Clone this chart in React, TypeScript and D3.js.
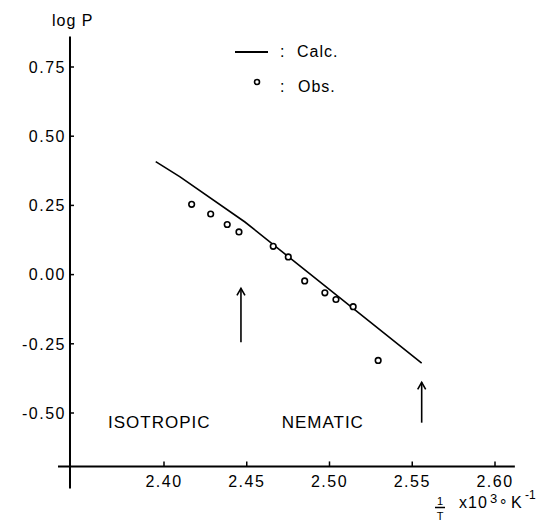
import React, { useEffect, useRef } from "react";
import * as d3 from "d3";

// observed log P vs 1/T x 10^3
const obsX = [2.4167, 2.4282, 2.4382, 2.4453, 2.466, 2.4751, 2.485, 2.4972, 2.5039, 2.5143, 2.5294];
const obsY = [0.254, 0.219, 0.181, 0.154, 0.102, 0.064, -0.023, -0.066, -0.09, -0.116, -0.31];

// calculated curve
const calcX = [2.395, 2.4097, 2.4489, 2.5557];
const calcY = [0.408, 0.353, 0.19, -0.32];

const xTicks = [2.4, 2.45, 2.5, 2.55, 2.6];
const yTicks = [0.75, 0.5, 0.25, 0.0, -0.25, -0.5];

// transition arrows: x, tip y, tail y
const arrowX = [2.4465, 2.5557];
const arrowTip = [-0.05, -0.389];
const arrowTail = [-0.244, -0.535];

const regionLabels = ["ISOTROPIC", "NEMATIC"];
const regionX = [2.3662, 2.4711];
const regionY = -0.553;

const font = "'Liberation Sans', Arial, sans-serif";

export default function App() {
  const ref = useRef<SVGSVGElement>(null);

  useEffect(() => {
    const svg = d3.select(ref.current);
    svg.selectAll("*").remove();

    const x = d3.scaleLinear().domain([2.4, 2.6]).range([164, 495]);
    const y = d3.scaleLinear().domain([-0.5, 0.75]).range([413, 67]);

    const axisX = x(2.3432);
    const axisY = y(-0.693);

    const g = svg.append("g").attr("fill", "none").attr("stroke", "#000");

    // axes lines
    g.append("line")
      .attr("x1", axisX).attr("x2", axisX)
      .attr("y1", y(0.86)).attr("y2", axisY + 22)
      .attr("stroke-width", 2);
    g.append("line")
      .attr("x1", axisX - 12).attr("x2", x(2.612))
      .attr("y1", axisY).attr("y2", axisY)
      .attr("stroke-width", 2);

    // Y ticks
    const yAxis = svg.append("g");
    yTicks.forEach((t) => {
      yAxis.append("line")
        .attr("x1", axisX).attr("x2", axisX + 4)
        .attr("y1", y(t)).attr("y2", y(t))
        .attr("stroke", "#000").attr("stroke-width", 1.5);
      yAxis.append("text")
        .attr("x", axisX - 4)
        .attr("y", y(t))
        .attr("dy", "0.36em")
        .attr("text-anchor", "end")
        .attr("font-family", font)
        .attr("font-size", 16)
        .attr("letter-spacing", 1.5)
        .text(d3.format(".2f")(t).replace("−", "-"));
    });

    // X ticks
    const xAxis = svg.append("g");
    xTicks.forEach((t) => {
      xAxis.append("line")
        .attr("x1", x(t)).attr("x2", x(t))
        .attr("y1", axisY).attr("y2", axisY - 5)
        .attr("stroke", "#000").attr("stroke-width", 1.5);
      xAxis.append("text")
        .attr("x", x(t))
        .attr("y", axisY + 21)
        .attr("text-anchor", "middle")
        .attr("font-family", font)
        .attr("font-size", 16)
        .attr("letter-spacing", 1.5)
        .text(d3.format(".2f")(t));
    });

    // y label
    svg.append("text")
      .attr("x", 52).attr("y", 26)
      .attr("font-family", font)
      .attr("font-size", 16)
      .attr("letter-spacing", 1)
      .text("log P");

    // x label: 1/T x10^3 °K^-1
    const xl = svg.append("g").attr("font-family", font).attr("fill", "#000");
    xl.append("text").attr("x", 440).attr("y", 505).attr("text-anchor", "middle").attr("font-size", 11).text("1");
    xl.append("line").attr("x1", 435).attr("x2", 445).attr("y1", 507.5).attr("y2", 507.5).attr("stroke", "#000").attr("stroke-width", 1.5);
    xl.append("text").attr("x", 440).attr("y", 520).attr("text-anchor", "middle").attr("font-size", 11).text("T");
    xl.append("text").attr("x", 459).attr("y", 508).attr("font-size", 16).attr("letter-spacing", 1).text("x10");
    xl.append("text").attr("x", 490).attr("y", 503).attr("font-size", 13).text("3");
    xl.append("text").attr("x", 500).attr("y", 511).attr("font-size", 16).text("°");
    xl.append("text").attr("x", 511).attr("y", 508).attr("font-size", 16).text("K");
    xl.append("text").attr("x", 525).attr("y", 499).attr("font-size", 12).text("-1");

    // calculated line
    const pts = calcX.map((v, i) => [v, calcY[i]] as [number, number]);
    svg.append("path")
      .attr("d", d3.line<[number, number]>().x((d) => x(d[0])).y((d) => y(d[1]))(pts))
      .attr("fill", "none")
      .attr("stroke", "#000")
      .attr("stroke-width", 1.6);

    // observed points
    svg.append("g")
      .selectAll("circle")
      .data(obsX.map((v, i) => [v, obsY[i]]))
      .join("circle")
      .attr("cx", (d) => x(d[0]))
      .attr("cy", (d) => y(d[1]))
      .attr("r", 2.8)
      .attr("fill", "#fff")
      .attr("stroke", "#000")
      .attr("stroke-width", 1.6);

    // arrows
    arrowX.forEach((ax, i) => {
      const px = x(ax);
      const tip = y(arrowTip[i]);
      const tail = y(arrowTail[i]);
      svg.append("line")
        .attr("x1", px).attr("x2", px).attr("y1", tip).attr("y2", tail)
        .attr("stroke", "#000").attr("stroke-width", 1.6);
      svg.append("path")
        .attr("d", `M${px - 4},${tip + 7}L${px},${tip}L${px + 4},${tip + 7}`)
        .attr("fill", "none").attr("stroke", "#000").attr("stroke-width", 1.6);
    });

    // region labels
    regionLabels.forEach((lab, i) => {
      svg.append("text")
        .attr("x", x(regionX[i]))
        .attr("y", y(regionY))
        .attr("font-family", font)
        .attr("font-size", 17)
        .attr("letter-spacing", 1)
        .text(lab);
    });

    // legend
    const lg = svg.append("g").attr("font-family", font).attr("font-size", 16);
    lg.append("line").attr("x1", 235).attr("x2", 268).attr("y1", 52).attr("y2", 52).attr("stroke", "#000").attr("stroke-width", 2);
    lg.append("text").attr("x", 280).attr("y", 57).text(":");
    lg.append("text").attr("x", 297).attr("y", 57).attr("letter-spacing", 1).text("Calc.");
    lg.append("circle").attr("cx", 257).attr("cy", 82).attr("r", 2.5).attr("fill", "#fff").attr("stroke", "#000").attr("stroke-width", 1.6);
    lg.append("text").attr("x", 280).attr("y", 92).text(":");
    lg.append("text").attr("x", 298).attr("y", 92).attr("letter-spacing", 1).text("Obs.");
  }, []);

  return (
    <svg
      ref={ref}
      width={544}
      height={526}
      style={{ position: "absolute", left: 0, top: 0, background: "#fff" }}
    />
  );
}
